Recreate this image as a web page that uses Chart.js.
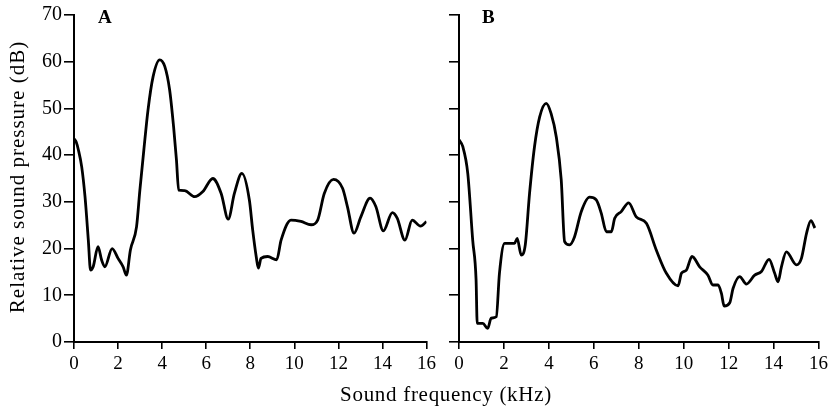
<!DOCTYPE html>
<html>
<head>
<meta charset="utf-8">
<script src="https://cdn.jsdelivr.net/npm/chart.js@4"></script>
<style>
  body { margin: 0; background: #fff; }
  #wrap { position: relative; width: 832px; height: 409px; overflow: hidden; font-family: "Liberation Serif", serif; color: #000; }
  canvas { position: absolute; top: 0; }
  .ytitle { position: absolute; left: -133px; top: 165px; width: 300px; height: 24px; line-height: 24px;
            text-align: center; font-size: 21px; letter-spacing: 1px; transform: rotate(-90deg); white-space: nowrap; }
  .xtitle { position: absolute; left: 296px; top: 382px; width: 300px; height: 24px; line-height: 24px;
            text-align: center; font-size: 21px; letter-spacing: 0.7px; white-space: nowrap; }
</style>
</head>
<body>
<div id="wrap">
  <canvas id="panelA" width="440" height="409" style="left:0"></canvas>
  <canvas id="panelB" width="392" height="409" style="left:440px"></canvas>
  <div class="ytitle">Relative sound pressure (dB)</div>
  <div class="xtitle">Sound frequency (kHz)</div>
</div>
<script>
// panel A
const freqA = [0, 0.1, 0.2, 0.35, 0.5, 0.65, 0.75, 0.87, 1.09, 1.25, 1.4, 1.73, 2.0, 2.23, 2.38, 2.56, 2.84, 2.99,
  3.17, 3.36, 3.59, 3.89, 4.12, 4.34, 4.52, 4.65, 4.75, 5.02, 5.48, 5.85, 6.3, 6.68, 7.0, 7.28, 7.62, 7.96, 8.11,
  8.27, 8.37, 8.49, 8.79, 9.2, 9.4, 9.85, 10.3, 10.76, 11.06, 11.36, 11.78, 12.19, 12.41, 12.71, 13.02, 13.44,
  13.7, 14.04, 14.45, 14.67, 15.02, 15.35, 15.73, 16.0];
const levelA = [43.5, 42.8, 41.1, 37.5, 31.1, 21.8, 15.4, 16.1, 20.4, 17.6, 16.1, 20.0, 17.9, 16.1, 14.3, 19.7, 24.7, 32.5,
  41.1, 49.7, 56.8, 60.4, 59.0, 54.0, 46.1, 39.0, 32.5, 32.4, 31.1, 32.2, 35.0, 31.8, 26.3, 31.8, 36.1, 30.4, 24.0,
  18.3, 15.8, 17.9, 18.3, 17.6, 21.8, 26.1, 25.8, 25.1, 26.1, 31.8, 34.8, 32.9, 29.0, 23.3, 26.8, 30.8,
  29.0, 23.8, 27.7, 26.5, 21.8, 26.1, 24.8, 25.8];

// panel B
const freqB = [0, 0.17, 0.39, 0.61, 0.76, 0.81, 1.06, 1.28, 1.43, 1.66, 1.8, 2.03, 2.47, 2.59, 2.77, 2.95, 3.14, 3.36,
  3.59, 3.88, 4.1, 4.33, 4.55, 4.7, 4.92, 5.14, 5.44, 5.81, 6.11, 6.33, 6.56, 6.78, 6.93, 7.22, 7.55, 7.89, 8.34,
  8.78, 9.23, 9.75, 9.9, 10.12, 10.37, 10.71, 11.08, 11.3, 11.53, 11.68, 11.8, 12.05, 12.2, 12.49, 12.79, 13.16,
  13.46, 13.8, 14.05, 14.2, 14.35, 14.57, 15.02, 15.24, 15.47, 15.66, 15.84];
const levelB = [43.3, 41.8, 36.1, 21.8, 13.3, 4.0, 4.0, 2.9, 5.1, 5.4, 14.7, 21.1, 21.1, 22.2, 18.6, 20.8, 31.8, 41.8,
  48.2, 51.1, 48.9, 43.9, 34.7, 21.5, 20.8, 22.5, 27.9, 31.0, 30.4, 27.6, 23.6, 23.6, 26.5, 27.9, 29.8, 26.8, 25.4,
  19.7, 14.7, 12.0, 14.7, 15.4, 18.3, 16.1, 14.3, 12.2, 12.2, 10.4, 7.7, 8.4, 11.5, 14.0, 12.4, 14.3,
  15.1, 17.7, 14.7, 12.9, 16.1, 19.3, 16.5, 17.9, 23.3, 26.0, 24.4];

const xTicks = [0, 2, 4, 6, 8, 10, 12, 14, 16];
const yTicks = [0, 10, 20, 30, 40, 50, 60, 70];

const serif = '"Liberation Serif", "Times New Roman", serif';

// draws the panel letter next to the top of the y axis
const panelLetter = {
    id: 'panelLetter',
    afterDraw(chart, args, opts) {
        const c = chart.ctx;
        c.save();
        c.font = 'bold 19px ' + serif;
        c.fillStyle = '#000';
        c.textBaseline = 'alphabetic';
        c.fillText(opts.text, chart.chartArea.left + opts.dx, 23);
        c.restore();
    }
};

function makePanel(id, freq, level, letter, showY, yWidth, padRight, letterDx) {
    const pts = freq.map((f, i) => ({ x: f, y: level[i] }));
    return new Chart(document.getElementById(id), {
        type: 'line',
        data: {
            datasets: [{
                data: pts,
                borderColor: '#000',
                borderWidth: 2.8,
                pointRadius: 0,
                cubicInterpolationMode: 'monotone',
                fill: false
            }]
        },
        options: {
            responsive: false,
            animation: false,
            layout: { padding: { top: 15, right: padRight, bottom: 0, left: 0 } },
            plugins: {
                legend: { display: false },
                tooltip: { enabled: false },
                panelLetter: { text: letter, dx: letterDx }
            },
            scales: {
                x: {
                    type: 'linear',
                    min: 0, max: 16,
                    afterBuildTicks: s => { s.ticks = xTicks.map(v => ({ value: v })); },
                    afterFit: s => { s.height = 67; },
                    grid: { drawOnChartArea: false, drawTicks: true, tickLength: 7, color: '#000', lineWidth: 1.6 },
                    border: { display: true, color: '#000', width: 2 },
                    ticks: { color: '#000', padding: 4, maxRotation: 0, font: { family: serif, size: 19 } }
                },
                y: {
                    type: 'linear',
                    min: 0, max: 70,
                    afterBuildTicks: s => { s.ticks = yTicks.map(v => ({ value: v })); },
                    afterFit: s => { s.width = yWidth; },
                    grid: { drawOnChartArea: false, drawTicks: true, tickLength: 10, color: '#000', lineWidth: 1.6 },
                    border: { display: true, color: '#000', width: 2 },
                    ticks: { display: showY, color: '#000', padding: 2, font: { family: serif, size: 20 } }
                }
            }
        },
        plugins: [panelLetter]
    });
}

makePanel('panelA', freqA, levelA, 'A', true, 74, 12, 24);
makePanel('panelB', freqB, levelB, 'B', false, 19, 13, 23);
</script>
</body>
</html>
